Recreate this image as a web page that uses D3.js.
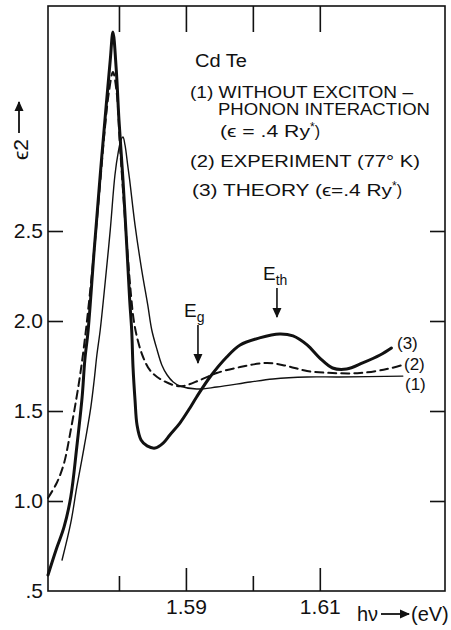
<!DOCTYPE html>
<html>
<head>
<meta charset="utf-8">
<script src="https://d3js.org/d3.v7.min.js"></script>
<style>
  body { margin: 0; background: #fff; }
  svg { display: block; }
  text { font-family: "Liberation Sans", Arial, sans-serif; fill: #111; }
</style>
</head>
<body>
<svg id="drawing_region"></svg>
<script>
// photon energy (eV) and eps2
const theory_e = [1.5694, 1.5706, 1.5718, 1.5728, 1.5737, 1.5745, 1.5749, 1.5754, 1.5763, 1.5772, 1.5781, 1.5787, 1.5791,
    1.5796, 1.5800, 1.5806, 1.5812, 1.5816, 1.5819, 1.5821, 1.5824, 1.5827, 1.5833, 1.5842, 1.5854, 1.5866, 1.5876,
    1.5891, 1.5906, 1.5916, 1.5936, 1.5961, 1.5981, 1.6010, 1.6040, 1.6060, 1.6081, 1.6100, 1.6119, 1.6140, 1.6164,
    1.6190, 1.6207];
const theory_v = [0.589, 0.728, 0.856, 1.022, 1.300, 1.578, 1.783, 1.950, 2.394, 2.811, 3.200, 3.450, 3.606,
    3.394, 3.117, 2.783, 2.394, 2.117, 1.950, 1.744, 1.561, 1.422, 1.339, 1.306, 1.294, 1.322, 1.367,
    1.433, 1.517, 1.578, 1.689, 1.800, 1.867, 1.906, 1.928, 1.917, 1.867, 1.794, 1.739, 1.733, 1.767,
    1.811, 1.850];

const exper_e = [1.5694, 1.5707, 1.5718, 1.5728, 1.5736, 1.5742, 1.5748, 1.5754, 1.5763, 1.5772, 1.5779, 1.5785, 1.5791,
    1.5797, 1.5801, 1.5807, 1.5813, 1.5818, 1.5822, 1.5828, 1.5836, 1.5846, 1.5857, 1.5881, 1.5896, 1.5921, 1.5946,
    1.5981, 1.6021, 1.6051, 1.6081, 1.6119, 1.6160, 1.6200, 1.6224];
const exper_v = [1.017, 1.100, 1.211, 1.394, 1.561, 1.700, 1.867, 2.061, 2.394, 2.772, 3.072, 3.272, 3.383,
    3.256, 3.006, 2.672, 2.367, 2.144, 2.006, 1.894, 1.800, 1.728, 1.689, 1.644, 1.639, 1.672, 1.711,
    1.744, 1.767, 1.750, 1.722, 1.711, 1.711, 1.733, 1.756];

const nophonon_e = [1.5715, 1.5728, 1.5737, 1.5748, 1.5758, 1.5763, 1.5767, 1.5772, 1.5779, 1.5787, 1.5794, 1.5799,
    1.5803, 1.5806, 1.5809, 1.5813, 1.5816, 1.5824, 1.5834, 1.5843, 1.5849, 1.5857, 1.5864, 1.5872, 1.5881, 1.5891,
    1.5916, 1.5946, 1.5996, 1.6030, 1.6081, 1.6130, 1.6224];
const nophonon_v = [0.672, 0.878, 1.078, 1.300, 1.522, 1.672, 1.811, 1.950, 2.200, 2.506, 2.811, 2.939,
    3.006, 3.022, 2.978, 2.867, 2.783, 2.533, 2.283, 2.089, 1.950, 1.839, 1.756, 1.700, 1.661, 1.639,
    1.622, 1.633, 1.661, 1.678, 1.689, 1.689, 1.694];

const x_ticks = [1.58, 1.59, 1.60, 1.61];
const x_labels = [1.59, 1.61];
const y_ticks = [1.0, 1.5, 2.0, 2.5];
const y_labels = [0.5, 1.0, 1.5, 2.0, 2.5];
const E_g = 1.5918;
const E_th = 1.6036;

const width = 451, height = 630;
const box = {left: 48, right: 445, top: 6, bottom: 591};

const svg = d3.select('#drawing_region')
    .attr('width', width)
    .attr('height', height);

const xscale = d3.scaleLinear()
    .domain([1.5694, 1.6287])
    .range([box.left, box.right]);

const yscale = d3.scaleLinear()
    .domain([0.5, 3.75])
    .range([box.bottom, box.top]);

svg.append('defs').append('marker')
    .attr('id', 'head')
    .attr('viewBox', '0 0 10 10')
    .attr('refX', 9).attr('refY', 5)
    .attr('markerWidth', 10).attr('markerHeight', 10)
    .attr('markerUnits', 'userSpaceOnUse')
    .attr('orient', 'auto')
    .append('path')
    .attr('d', 'M0,0.5 L10,5 L0,9.5 z')
    .attr('fill', '#111');

// frame
svg.append('rect')
    .attr('x', box.left).attr('y', box.top)
    .attr('width', box.right - box.left)
    .attr('height', box.bottom - box.top)
    .attr('fill', 'none')
    .attr('stroke', '#111')
    .attr('stroke-width', 1.6);

function style_axis(g) {
    g.select('.domain').remove();
    g.selectAll('line').attr('stroke', '#111').attr('stroke-width', 1.6);
    g.selectAll('text')
        .attr('font-family', '"Liberation Sans", Arial, sans-serif')
        .attr('font-size', 21)
        .attr('fill', '#111');
}

// bottom: long ticks with labels, short ticks between
svg.append('g')
    .attr('transform', `translate(0, ${box.bottom})`)
    .call(d3.axisBottom(xscale).tickValues(x_labels).tickSize(-23).tickPadding(8).tickFormat(d3.format('.2f')))
    .call(style_axis);

svg.append('g')
    .attr('transform', `translate(0, ${box.bottom})`)
    .call(d3.axisBottom(xscale).tickValues(x_ticks.filter(d => !x_labels.includes(d))).tickSize(-15).tickFormat(''))
    .call(style_axis);

svg.append('g')
    .attr('transform', `translate(0, ${box.top})`)
    .call(d3.axisTop(xscale).tickValues(x_ticks).tickSize(-26).tickFormat(''))
    .call(style_axis);

svg.append('g')
    .attr('transform', `translate(${box.left}, 0)`)
    .call(d3.axisLeft(yscale).tickValues(y_labels).tickSize(-15).tickPadding(5)
        .tickFormat(d => d === 0.5 ? '.5' : d3.format('.1f')(d)))
    .call(style_axis)
    .selectAll('.tick').filter(d => d === 0.5).select('line').remove();

svg.append('g')
    .attr('transform', `translate(${box.right}, 0)`)
    .call(d3.axisRight(yscale).tickValues(y_ticks).tickSize(-15).tickFormat(''))
    .call(style_axis);

// curves
const line = d3.line()
    .x(d => xscale(d[0]))
    .y(d => yscale(d[1]))
    .curve(d3.curveCatmullRom.alpha(0.5));

const curves = [
    {e: nophonon_e, v: nophonon_v, w: 1.4, dash: null},
    {e: exper_e, v: exper_v, w: 2, dash: '8,5'},
    {e: theory_e, v: theory_v, w: 3, dash: null}
];

curves.forEach(c => {
    svg.append('path')
        .datum(d3.zip(c.e, c.v))
        .attr('d', line)
        .attr('fill', 'none')
        .attr('stroke', '#111')
        .attr('stroke-width', c.w)
        .attr('stroke-dasharray', c.dash)
        .attr('stroke-linejoin', 'round')
        .attr('stroke-linecap', 'round');
});

// curve numbers
const curve_labels = [
    {t: '(3)', x: 397, y: 349},
    {t: '(2)', x: 404, y: 370},
    {t: '(1)', x: 405, y: 390}
];
svg.selectAll('.clabel')
    .data(curve_labels)
    .enter()
    .append('text')
    .attr('x', d => d.x)
    .attr('y', d => d.y)
    .attr('font-size', 17)
    .text(d => d.t);

// E_g and E_th markers
function energy_mark(e, name, sub, y0, y1) {
    const cx = xscale(e);
    svg.append('line')
        .attr('x1', cx).attr('x2', cx)
        .attr('y1', y0).attr('y2', y1)
        .attr('stroke', '#111')
        .attr('stroke-width', 1.6)
        .attr('marker-end', 'url(#head)');
    const t = svg.append('text')
        .attr('x', cx - 14)
        .attr('y', y0 - 8)
        .attr('font-size', 19);
    t.append('tspan').text(name);
    t.append('tspan').attr('dy', 5).attr('font-size', 14).text(sub);
}
energy_mark(E_g, 'E', 'g', 325, 363);
energy_mark(E_th, 'E', 'th', 288, 317);

// legend block, widths pinned to the figure
const legend = svg.append('g').attr('font-size', 16);
function legend_line(x, y, parts, len) {
    const t = legend.append('text').attr('x', x).attr('y', y);
    t.append('tspan')
        .attr('textLength', len)
        .attr('lengthAdjust', 'spacingAndGlyphs')
        .text(parts[0]);
    if (parts.length > 1) {
        t.append('tspan').attr('dy', -6).attr('font-size', 12).text('*');
        t.append('tspan').attr('dy', 6).text(')');
    }
    return t;
}
legend_line(195, 67, ['Cd Te'], 52).attr('font-size', 18);
legend_line(190, 98, ['(1) WITHOUT  EXCITON –'], 223);
legend_line(218, 115, ['PHONON  INTERACTION'], 212);
legend_line(220, 137, ['(ϵ = .4  Ry', '*'], 90);
legend_line(190, 167, ['(2) EXPERIMENT  (77° K)'], 230);
legend_line(192, 196, ['(3) THEORY (ϵ=.4 Ry', '*'], 200);

// y title: eps2 with arrow, rotated
const ylab = svg.append('g').attr('transform', 'translate(28, 160) rotate(-90)');
ylab.append('text').attr('x', 0).attr('y', 0).attr('font-size', 21).text('ϵ2');
ylab.append('line')
    .attr('x1', 27).attr('x2', 58)
    .attr('y1', -9).attr('y2', -9)
    .attr('stroke', '#111').attr('stroke-width', 1.8)
    .attr('marker-end', 'url(#head)');

// x title
svg.append('text').attr('x', 357).attr('y', 621).attr('font-size', 20).text('hν');
svg.append('line')
    .attr('x1', 381).attr('x2', 409)
    .attr('y1', 614).attr('y2', 614)
    .attr('stroke', '#111').attr('stroke-width', 1.8)
    .attr('marker-end', 'url(#head)');
svg.append('text').attr('x', 411).attr('y', 621).attr('font-size', 20).text('(eV)');
</script>
</body>
</html>
